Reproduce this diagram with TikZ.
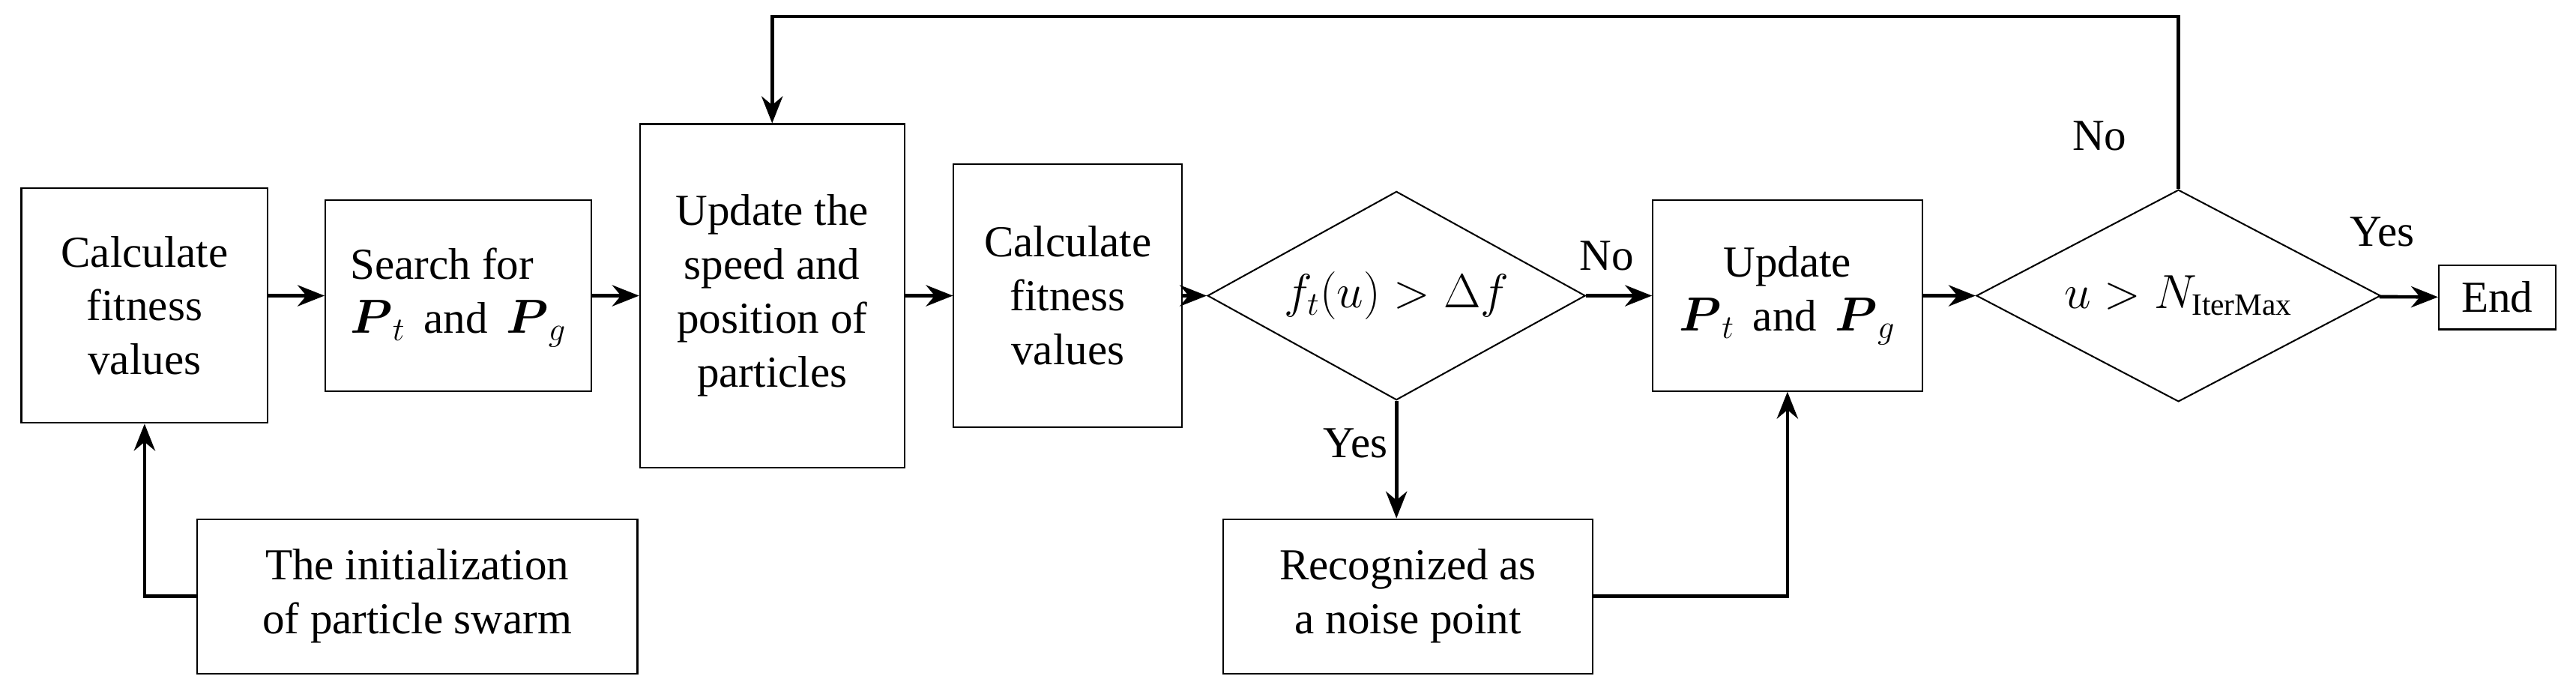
\documentclass[tikz,border=0pt]{standalone}
\usepackage{amsmath,amssymb}
\usepackage{fontspec}
\setmainfont{Liberation Serif}
\newfontfamily\myserif{Liberation Serif}
\usetikzlibrary{shapes.geometric,arrows.meta}
\begin{document}
\begin{tikzpicture}[x=0.03cm,y=-0.03cm,
  every node/.style={font=\myserif\fontsize{23}{28}\selectfont},
  box/.style={draw,line width=0.8pt,align=center,inner sep=0pt},
  dia/.style={draw,line width=0.8pt,diamond,aspect=1.8,inner sep=0pt},
  arr/.style={-{Stealth[length=14pt,width=11pt]},line width=1.8pt},
  lab/.style={inner sep=0pt}]
\useasboundingbox (0,0) rectangle (1568,422);
\node[box,minimum width=150*0.03cm,minimum height=143*0.03cm] (b1) at (88,186) {Calculate\\fitness\\values};
\node[box,minimum width=162*0.03cm,minimum height=116*0.03cm] (b2) at (279,180) {\begin{tabular}{@{}l@{}}Search for\\$\boldsymbol{P}_t$\, and\, $\boldsymbol{P}_g$\end{tabular}};
\node[box,minimum width=161*0.03cm,minimum height=209*0.03cm] (b3) at (470,180) {Update the\\speed and\\position of\\particles};
\node[box,minimum width=139*0.03cm,minimum height=160*0.03cm] (b4) at (650,180) {Calculate\\fitness\\values};
\node[dia,minimum width=230*0.03cm,minimum height=127*0.03cm] (d1) at (850,180) {$f_t(u) > \Delta f$};
\node[box,minimum width=164*0.03cm,minimum height=116*0.03cm] (b6) at (1088,180) {Update\\$\boldsymbol{P}_t$\, and\, $\boldsymbol{P}_g$};
\node[dia,minimum width=246*0.03cm,minimum height=129*0.03cm] (d2) at (1326,180) {$u > N_{\mathrm{IterMax}}$};
\node[box,minimum width=71*0.03cm,minimum height=39*0.03cm] (end) at (1520,181) {End};
\node[box,minimum width=268*0.03cm,minimum height=94*0.03cm] (init) at (254,363) {The initialization\\of particle swarm};
\node[box,minimum width=225*0.03cm,minimum height=94*0.03cm] (rec) at (857,363) {Recognized as\\a noise point};
\coordinate (c1) at (88,363);
\coordinate (t1) at (1326,10);
\coordinate (t2) at (470,10);
\coordinate (r1) at (1088,363);
\draw[arr] (init.west) -- (c1) -- (b1.south);
\draw[arr] (b1.east |- b2.west) -- (b2.west);
\draw[arr] (b2) -- (b3);
\draw[arr] (b3) -- (b4);
\draw[arr] (b4) -- (d1);
\draw[arr] (d1) -- (b6);
\draw[arr] (b6) -- (d2);
\draw[arr] (d2) -- (end);
\draw[arr] (d2.north) -- (t1) -- (t2) -- (b3.north);
\draw[arr] (d1.south) -- (rec.north -| d1.south);
\draw[arr] (rec.east) -- (r1) -- (b6.south);
\node[lab] (l1) at (978,156) {No};
\node[lab] (l2) at (825,270) {Yes};
\node[lab] (l3) at (1278,83) {No};
\node[lab] (l4) at (1450,141) {Yes};
\end{tikzpicture}
\end{document}
